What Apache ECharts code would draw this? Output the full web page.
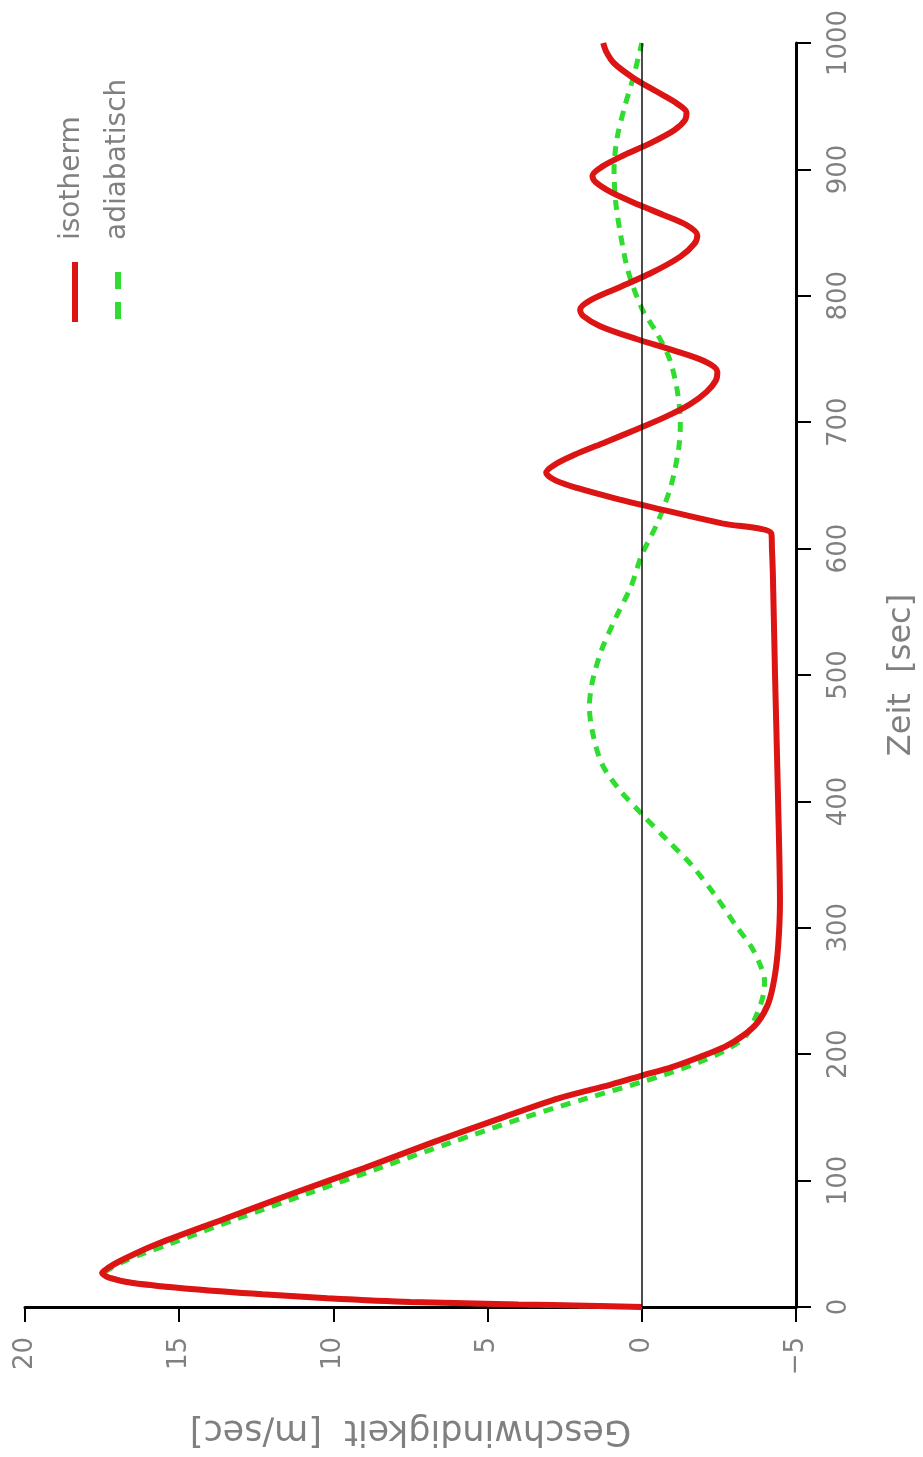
<!DOCTYPE html>
<html>
<head>
<meta charset="utf-8">
<script src="https://cdn.jsdelivr.net/npm/echarts@6/dist/echarts.min.js"></script>
<style>html,body{margin:0;padding:0;background:#fff}#c{width:923px;height:1457px}</style>
</head>
<body>
<div id="c"></div>
<script>
// Zeit [sec] (vertical axis, after rotation) and Geschwindigkeit [m/sec] (horizontal, inverse)
const timeTicks = [0, 100, 200, 300, 400, 500, 600, 700, 800, 900, 1000];
const velTicks = [-5, 0, 5, 10, 15, 20];

const tIso = [0,1,2,4,7,10,14,19,23,27,31,36,42,50,70,90,110,130,150,165,176,183,190,198,206,215,225,240,260,285,320,400,500,580,600,612,620,630,640,648,654,660,666,674,684,694,704,714,724,733,740,748,757,766,776,784,789,796,806,818,831,841,848,856,864,872,882,890,895,902,911,921,931,939,945,952,962,972,984,993,1000];
const vIso = [0,1.8,4.0,7.5,10.2,12.3,14.5,16.5,17.25,17.5,17.3,16.95,16.45,15.7,13.5,11.3,9,6.8,4.5,2.7,1.0,0,-1.0,-1.9,-2.7,-3.3,-3.75,-4.1,-4.3,-4.42,-4.48,-4.42,-4.32,-4.25,-4.22,-4.2,-2.6,-0.8,0.9,2.1,2.8,3.1,2.85,2.2,1.2,0.2,-0.75,-1.55,-2.1,-2.4,-2.45,-2.05,-1.0,0.2,1.35,1.9,2.0,1.7,0.8,-0.3,-1.25,-1.7,-1.8,-1.45,-0.7,0.1,1.0,1.5,1.6,1.3,0.6,-0.3,-1.05,-1.4,-1.45,-1.15,-0.45,0.25,0.9,1.15,1.25];

const tAdi = [0,2,4,7,10,14,19,23,27,31,36,42,50,70,90,110,130,150,165,178,186,195,205,215,230,245,258,270,285,300,325,350,370,390,410,430,455,475,495,520,545,570,595,620,650,680,700,725,750,770,790,820,850,875,900,925,950,975,1000];
const vAdi = [0,4.0,7.5,10.2,12.3,14.5,16.5,17.2,17.4,17.2,16.8,16.2,15.3,13.1,10.8,8.5,6.2,3.8,1.8,0,-1.0,-2.0,-2.85,-3.4,-3.7,-3.92,-3.98,-3.85,-3.55,-3.1,-2.4,-1.6,-0.8,0,0.75,1.3,1.6,1.7,1.6,1.3,0.85,0.35,0,-0.5,-0.95,-1.2,-1.25,-1.15,-0.9,-0.5,0,0.45,0.7,0.85,0.9,0.8,0.55,0.25,0];

const seriesNames = ['isotherm', 'adiabatisch'];
const xName = 'Geschwindigkeit  [m/sec]';
const yName = 'Zeit  [sec]';

const isoData = tIso.map((t, i) => [vIso[i], t]);
const adiData = tAdi.map((t, i) => [vAdi[i], t]);

const FONT = 'DejaVu Sans';
const GRAY = '#808080';
const RED = '#dc1414';
const GREEN = '#2fdc2f';
const fmt = v => String(v).replace('-', '\u2212');

const chart = echarts.init(document.getElementById('c'), null, {renderer: 'canvas'});
chart.setOption({
  animation: false,
  backgroundColor: '#fff',
  grid: {left: 25, right: 127, top: 43, bottom: 150, containLabel: false, outerBoundsMode: 'none'},
  xAxis: {
    type: 'value', min: velTicks[0], max: velTicks[velTicks.length - 1], interval: 5, inverse: true,
    position: 'bottom',
    name: xName, nameLocation: 'middle', nameRotate: 180, nameGap: 106,
    nameTextStyle: {fontFamily: FONT, fontSize: 35, color: GRAY},
    axisLine: {onZero: false, lineStyle: {color: '#000', width: 3}},
    axisTick: {show: true, length: 15, lineStyle: {color: '#000', width: 2}},
    axisLabel: {rotate: 90, margin: 30, fontFamily: FONT, fontSize: 26, color: GRAY, formatter: fmt},
    splitLine: {show: false}
  },
  yAxis: {
    type: 'value', min: timeTicks[0], max: timeTicks[timeTicks.length - 1], interval: 100,
    position: 'right',
    name: yName, nameLocation: 'middle', nameRotate: 90, nameGap: 90,
    nameTextStyle: {fontFamily: FONT, fontSize: 32, color: GRAY},
    axisLine: {onZero: false, lineStyle: {color: '#000', width: 3}},
    axisTick: {show: true, length: 15, lineStyle: {color: '#000', width: 2}},
    axisLabel: {rotate: 90, margin: 30, fontFamily: FONT, fontSize: 26, color: GRAY, formatter: fmt},
    splitLine: {show: false}
  },
  series: [
    {
      name: seriesNames[0], type: 'line', data: isoData, showSymbol: false, smooth: 0.3,
      lineStyle: {color: RED, width: 6}, z: 3,
      markLine: {
        silent: true, symbol: ['none', 'none'], label: {show: false},
        lineStyle: {color: '#111', width: 1.5, type: 'solid'},
        data: [{xAxis: 0}]
      }
    },
    {
      name: seriesNames[1], type: 'line', data: adiData, showSymbol: false, smooth: 0.3,
      lineStyle: {color: GREEN, width: 5, type: [10, 8]}, z: 2
    }
  ],
  graphic: [
    {type: 'line', shape: {x1: 75, y1: 262, x2: 75, y2: 322}, style: {stroke: RED, lineWidth: 6}},
    {type: 'line', shape: {x1: 118, y1: 272, x2: 118, y2: 322}, style: {stroke: GREEN, lineWidth: 6, lineDash: [17, 13]}},
    {type: 'text', x: 72, y: 240, rotation: Math.PI / 2,
      style: {text: seriesNames[0], fontFamily: FONT, fontSize: 28, fill: GRAY, align: 'left', verticalAlign: 'middle'}},
    {type: 'text', x: 118, y: 240, rotation: Math.PI / 2,
      style: {text: seriesNames[1], fontFamily: FONT, fontSize: 28, fill: GRAY, align: 'left', verticalAlign: 'middle'}}
  ]
});
</script>
</body>
</html>
